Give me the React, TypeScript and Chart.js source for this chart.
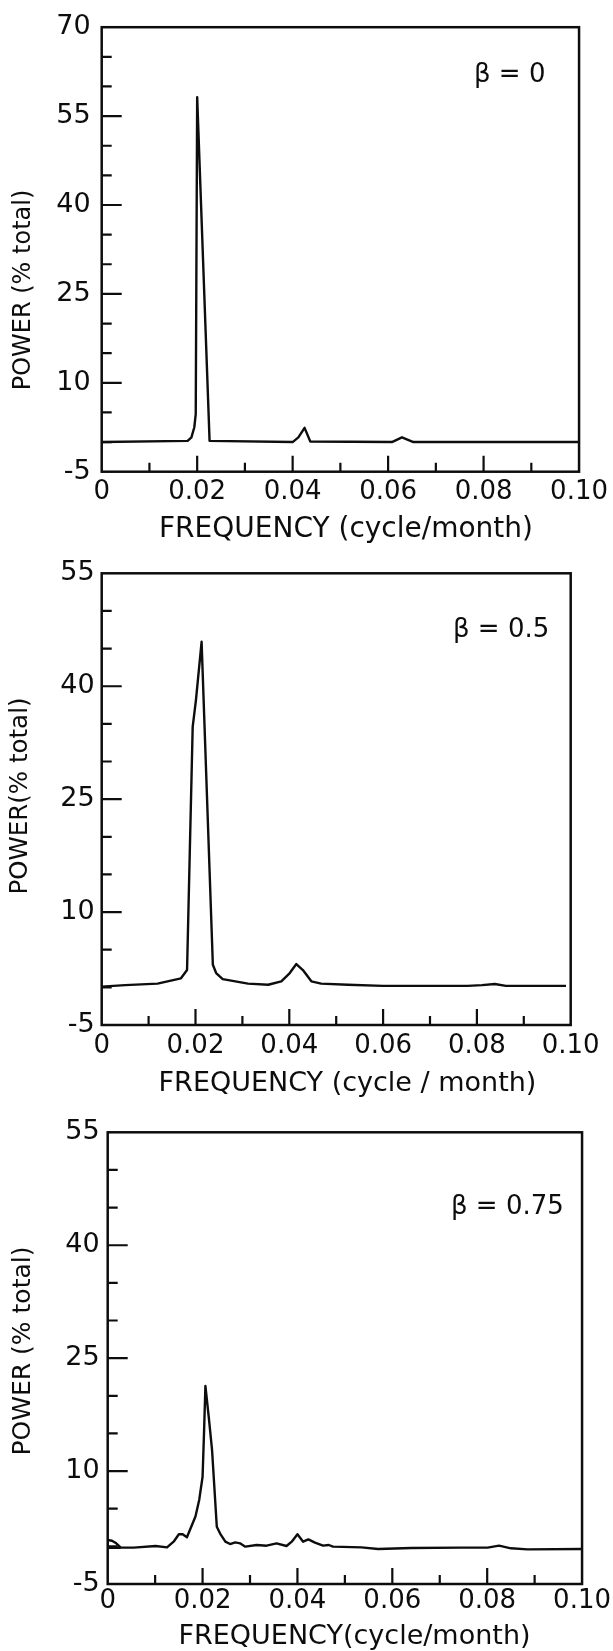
import React, { useEffect, useRef } from "react";
import { Chart, registerables } from "chart.js";

Chart.register(...registerables);

// ---------------- data ----------------
// frequency (cycle/month) and power (% total)
const freqBeta0 = [0, 0.018, 0.0188, 0.0194, 0.0197, 0.02, 0.0226, 0.04, 0.0412, 0.0425, 0.0437, 0.0608, 0.0629, 0.0653, 0.1];
const powerBeta0 = [0, 0.2, 0.8, 2.5, 4.7, 58.2, 0.2, 0, 0.8, 2.4, 0.1, 0, 0.8, 0, 0];

const freqBeta05 = [0, 0.005, 0.0119, 0.0169, 0.0182, 0.0194, 0.0201, 0.0213, 0.0237, 0.0244, 0.0258, 0.0312, 0.0355, 0.0383, 0.0401, 0.0415, 0.0429, 0.0447, 0.0468, 0.0525, 0.06, 0.078, 0.0811, 0.0838, 0.0862, 0.099];
const powerBeta05 = [0.1, 0.3, 0.5, 1.2, 2.3, 34.6, 38.2, 45.9, 3.0, 1.9, 1.1, 0.5, 0.35, 0.8, 1.9, 3.1, 2.3, 0.8, 0.5, 0.35, 0.2, 0.2, 0.3, 0.45, 0.2, 0.2];

const freqBeta075 = [0.0027, 0, 0, 0.0009, 0.0018, 0.0027, 0.0055, 0.0101, 0.0125, 0.0139, 0.015, 0.0158, 0.0167, 0.0185, 0.0193, 0.02, 0.0203, 0.0206, 0.0213, 0.022, 0.023, 0.0237, 0.0248, 0.0258, 0.0269, 0.0279, 0.029, 0.0314, 0.0335, 0.0356, 0.0377, 0.0388, 0.04, 0.0412, 0.0423, 0.0437, 0.0454, 0.0466, 0.0475, 0.0535, 0.057, 0.064, 0.0745, 0.0801, 0.0825, 0.085, 0.0885, 0.1];
const powerBeta075 = [-0.2, -0.2, 0.84, 0.75, 0.4, -0.13, -0.17, 0.05, -0.13, 0.62, 1.6, 1.6, 1.2, 3.96, 6.2, 9.25, 15.0, 21.3, 17.2, 12.8, 2.6, 1.7, 0.62, 0.31, 0.53, 0.4, -0.04, 0.18, 0.09, 0.4, 0.05, 0.62, 1.6, 0.62, 0.93, 0.49, 0.09, 0.18, -0.04, -0.13, -0.35, -0.22, -0.17, -0.17, 0.09, -0.26, -0.4, -0.35];

// tick values and labels
const freqTickValues = [0, 0.02, 0.04, 0.06, 0.08, 0.1];
const freqTickLabels = ["0", "0.02", "0.04", "0.06", "0.08", "0.10"];
const freqMinorMarks = [0.01, 0.03, 0.05, 0.07, 0.09];
const freqMajorMarks = [0.02, 0.04, 0.06, 0.08];

const powerTicks70 = [-5, 10, 25, 40, 55, 70];
const powerTicks55 = [-5, 10, 25, 40, 55];
const powerMinorMarks70 = [0, 5, 15, 20, 30, 35, 45, 50, 60, 65];
const powerMinorMarks55 = [0, 5, 15, 20, 30, 35, 45, 50];
const powerMajorMarks = [10, 25, 40, 55];

const betaLabels = ["\u03B2 = 0", "\u03B2 = 0.5", "\u03B2 = 0.75"];
const xTitles = ["FREQUENCY (cycle/month)", "FREQUENCY (cycle / month)", "FREQUENCY(cycle/month)"];
const yTitles = ["POWER (% total)", "POWER(% total)", "POWER (% total)"];

// ---------------- styling / layout ----------------
const INK = "#0d0d0d";
const FONT = "'DejaVu Sans', 'Liberation Sans', sans-serif";
const PAGE_W = 613;

type Box = {
  top: number; height: number; areaTop: number; areaBottom: number; left: number; right: number;
  yLabelPad: number; xLabelPad: number;
  betaX: number; betaY: number;
  yTitleX: number; yTitleY: number; yTitleSize: number;
  xTitleX: number; xTitleY: number; xTitleSize: number;
};

type Spec = {
  freq: number[]; power: number[];
  yMax: number; yTicks: number[]; yMinor: number[];
  beta: string; xTitle: string; yTitle: string; box: Box;
};

const specs: Spec[] = [
  {
    freq: freqBeta0, power: powerBeta0, yMax: 70, yTicks: powerTicks70, yMinor: powerMinorMarks70,
    beta: betaLabels[0], xTitle: xTitles[0], yTitle: yTitles[0],
    box: { top: 0, height: 550, areaTop: 21, areaBottom: 471.7, left: 101.7, right: 580,
      yLabelPad: 11, xLabelPad: 5,
      betaX: 474, betaY: 75,
      yTitleX: 23.5, yTitleY: 290, yTitleSize: 24,
      xTitleX: 346, xTitleY: 530, xTitleSize: 28 },
  },
  {
    freq: freqBeta05, power: powerBeta05, yMax: 55, yTicks: powerTicks55, yMinor: powerMinorMarks55,
    beta: betaLabels[1], xTitle: xTitles[1], yTitle: yTitles[1],
    box: { top: 550, height: 555, areaTop: 23.3, areaBottom: 475, left: 101.7, right: 570.7,
      yLabelPad: 7, xLabelPad: 6,
      betaX: 453, betaY: 80,
      yTitleX: 20.5, yTitleY: 246, yTitleSize: 24.5,
      xTitleX: 347.5, xTitleY: 534, xTitleSize: 27 },
  },
  {
    freq: freqBeta075, power: powerBeta075, yMax: 55, yTicks: powerTicks55, yMinor: powerMinorMarks55,
    beta: betaLabels[2], xTitle: xTitles[2], yTitle: yTitles[2],
    box: { top: 1105, height: 546, areaTop: 27.3, areaBottom: 479, left: 107.7, right: 584,
      yLabelPad: 8, xLabelPad: 2,
      betaX: 451, betaY: 102.6,
      yTitleX: 23.5, yTitleY: 246, yTitleSize: 25,
      xTitleX: 354.5, xTitleY: 531.5, xTitleSize: 27 },
  },
];

function Panel({ spec }: { spec: Spec }) {
  const ref = useRef<HTMLCanvasElement | null>(null);
  const b = spec.box;

  useEffect(() => {
    const canvas = ref.current;
    if (!canvas) return;

    const decor = {
      id: "decor",
      afterDatasetsDraw(chart: any) {
        const { ctx, chartArea: a } = chart;
        const xs = chart.scales.x;
        const ys = chart.scales.y;
        ctx.save();
        ctx.strokeStyle = INK;
        ctx.lineCap = "butt";
        ctx.lineWidth = 2.2;
        ctx.beginPath();
        for (const v of spec.yMinor) {
          const py = ys.getPixelForValue(v);
          ctx.moveTo(a.left, py);
          ctx.lineTo(a.left + 10, py);
        }
        for (const v of powerMajorMarks) {
          if (v >= spec.yMax) continue;
          const py = ys.getPixelForValue(v);
          ctx.moveTo(a.left, py);
          ctx.lineTo(a.left + 20, py);
        }
        for (const v of freqMinorMarks) {
          const px = xs.getPixelForValue(v);
          ctx.moveTo(px, a.bottom);
          ctx.lineTo(px, a.bottom - 9);
        }
        for (const v of freqMajorMarks) {
          const px = xs.getPixelForValue(v);
          ctx.moveTo(px, a.bottom);
          ctx.lineTo(px, a.bottom - 16);
        }
        ctx.stroke();

        ctx.lineWidth = 2.5;
        ctx.strokeRect(a.left, a.top, a.right - a.left, a.bottom - a.top);

        ctx.fillStyle = INK;
        ctx.textBaseline = "middle";
        ctx.textAlign = "left";
        ctx.font = `26px ${FONT}`;
        ctx.fillText(spec.beta, b.betaX, b.betaY);

        ctx.textAlign = "center";
        ctx.font = `${b.xTitleSize}px ${FONT}`;
        ctx.fillText(spec.xTitle, b.xTitleX, b.xTitleY);

        ctx.save();
        ctx.translate(b.yTitleX, b.yTitleY);
        ctx.rotate(-Math.PI / 2);
        ctx.font = `${b.yTitleSize}px ${FONT}`;
        ctx.fillText(spec.yTitle, 0, 0);
        ctx.restore();

        ctx.restore();
      },
    };

    const chart = new Chart(canvas, {
      type: "scatter",
      data: {
        datasets: [
          {
            data: spec.freq.map((f, i) => ({ x: f, y: spec.power[i] })),
            showLine: true,
            borderColor: INK,
            borderWidth: 2.4,
            pointRadius: 0,
            pointHoverRadius: 0,
            tension: 0,
            borderJoinStyle: "round",
          } as any,
        ],
      },
      options: {
        animation: false,
        responsive: false,
        maintainAspectRatio: false,
        devicePixelRatio: 1,
        events: [],
        layout: { padding: { left: 0, top: b.areaTop, right: PAGE_W - b.right, bottom: 0 } },
        plugins: { legend: { display: false }, tooltip: { enabled: false } },
        scales: {
          x: {
            type: "linear",
            min: 0,
            max: 0.1,
            afterBuildTicks: (s: any) => {
              s.ticks = freqTickValues.map((v) => ({ value: v }));
            },
            afterFit: (s: any) => {
              s.height = b.height - b.areaBottom;
            },
            ticks: {
              autoSkip: false,
              maxRotation: 0,
              minRotation: 0,
              padding: b.xLabelPad,
              color: INK,
              font: { family: FONT, size: 26 },
              callback: (_v: any, i: number) => freqTickLabels[i],
            },
            grid: { display: false, drawTicks: false },
            border: { display: false },
          },
          y: {
            type: "linear",
            min: -5,
            max: spec.yMax,
            afterBuildTicks: (s: any) => {
              s.ticks = spec.yTicks.map((v) => ({ value: v }));
            },
            afterFit: (s: any) => {
              s.width = b.left;
            },
            ticks: {
              autoSkip: false,
              padding: b.yLabelPad,
              color: INK,
              font: { family: FONT, size: 27 },
              callback: (v: any) => String(v),
            },
            grid: { display: false, drawTicks: false },
            border: { display: false },
          },
        },
      } as any,
      plugins: [decor],
    });

    return () => chart.destroy();
  }, [spec]);

  return (
    <canvas
      ref={ref}
      width={PAGE_W}
      height={b.height}
      style={{ position: "absolute", left: 0, top: b.top, width: PAGE_W, height: b.height, display: "block" }}
    />
  );
}

export default function App() {
  return (
    <div style={{ position: "absolute", left: 0, top: 0, width: PAGE_W, height: 1651, background: "#fff", overflow: "hidden" }}>
      {specs.map((s, i) => (
        <Panel key={i} spec={s} />
      ))}
    </div>
  );
}
